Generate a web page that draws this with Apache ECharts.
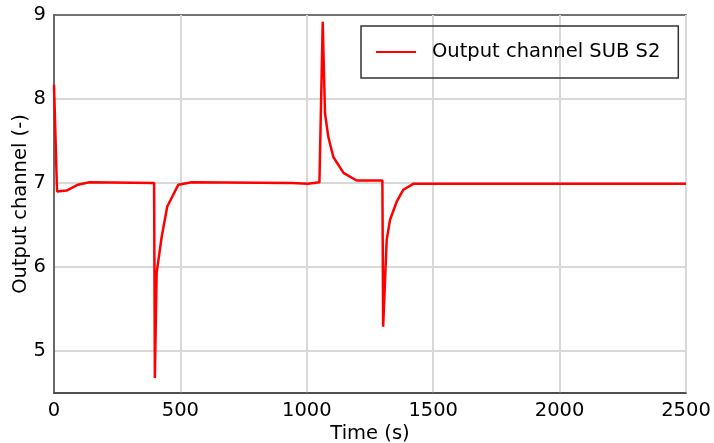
<!DOCTYPE html>
<html>
<head>
<meta charset="utf-8">
<script src="https://cdn.jsdelivr.net/npm/echarts@6/dist/echarts.min.js"></script>
<style>
  html, body { margin: 0; padding: 0; background: #fff; }
  #chart { width: 714px; height: 443px; }
</style>
</head>
<body>
<div id="chart"></div>
<script>
  // time (s) and output values
  const times = [0, 12, 50, 95, 140, 396, 399, 406, 426, 448, 492, 545, 940, 1005, 1050, 1063, 1072, 1085, 1105, 1145, 1197, 1299, 1302, 1316, 1329, 1356, 1382, 1421, 2500]
  const values = [8.17, 6.9, 6.91, 6.98, 7.01, 7.0, 4.68, 5.93, 6.36, 6.72, 6.98, 7.01, 7.0, 6.99, 7.01, 8.92, 7.83, 7.55, 7.31, 7.12, 7.03, 7.03, 5.29, 6.32, 6.56, 6.78, 6.92, 6.99, 6.99]
  const xTicks = [0, 500, 1000, 1500, 2000, 2500]
  const seriesName = 'Output channel SUB S2'

  const font = 'DejaVu Sans'
  const fs = 19.5
  const chart = echarts.init(document.getElementById('chart'))
  const data = times.map((t, i) => [t, values[i]])

  chart.setOption({
    backgroundColor: '#fff',
    animation: false,
    grid: {
      left: 54,
      right: 28,
      top: 15,
      bottom: 50,
      outerBoundsMode: 'none',
      containLabel: false,
      show: true,
      borderColor: '#444',
      borderWidth: 1.5
    },
    legend: {
      data: [seriesName],
      left: 361,
      top: 26,
      padding: [16, 18, 16, 15],
      borderColor: '#333',
      borderWidth: 1.5,
      borderRadius: 0,
      itemWidth: 40,
      itemHeight: 14,
      icon: 'path://M0,6L40,6L40,8L0,8Z',
      textStyle: { fontFamily: font, fontSize: fs, color: '#000', padding: [0, 0, 0, 11] }
    },
    xAxis: {
      type: 'value',
      min: 0,
      max: 2500,
      interval: 500,
      name: 'Time (s)',
      nameLocation: 'middle',
      nameGap: 31,
      nameMoveOverlap: false,
      nameTextStyle: { fontFamily: font, fontSize: fs, color: '#000' },
      axisLine: { show: true, onZero: false, lineStyle: { color: '#444', width: 1.5 } },
      axisTick: { show: false },
      axisLabel: {
        fontFamily: font, fontSize: fs, color: '#000', margin: 8,
        formatter: v => xTicks.includes(v) ? String(v) : ''
      },
      splitLine: { show: true, lineStyle: { color: '#d8d8d8', width: 2 } }
    },
    yAxis: {
      type: 'value',
      min: 4.5,
      max: 9,
      interval: 0.5,
      name: 'Output channel (-)',
      nameLocation: 'middle',
      nameGap: 23,
      nameMoveOverlap: false,
      nameTextStyle: { fontFamily: font, fontSize: fs, color: '#000' },
      axisLine: { show: true, lineStyle: { color: '#444', width: 1.5 } },
      axisTick: { show: false },
      axisLabel: {
        fontFamily: font, fontSize: fs, color: '#000', margin: 8,
        formatter: v => (Number.isInteger(v) ? String(v) : '')
      },
      splitLine: {
        show: true,
        lineStyle: {
          color: ['transparent', '#d8d8d8', 'transparent', '#d8d8d8', 'transparent', '#d8d8d8', 'transparent', '#d8d8d8', 'transparent', 'transparent'],
          width: 2
        }
      }
    },
    series: [
      {
        name: seriesName,
        type: 'line',
        data: data,
        symbol: 'none',
        smooth: false,
        lineStyle: { color: '#ff0000', width: 2.5 },
        itemStyle: { color: '#ff0000' }
      }
    ]
  })
</script>
</body>
</html>
